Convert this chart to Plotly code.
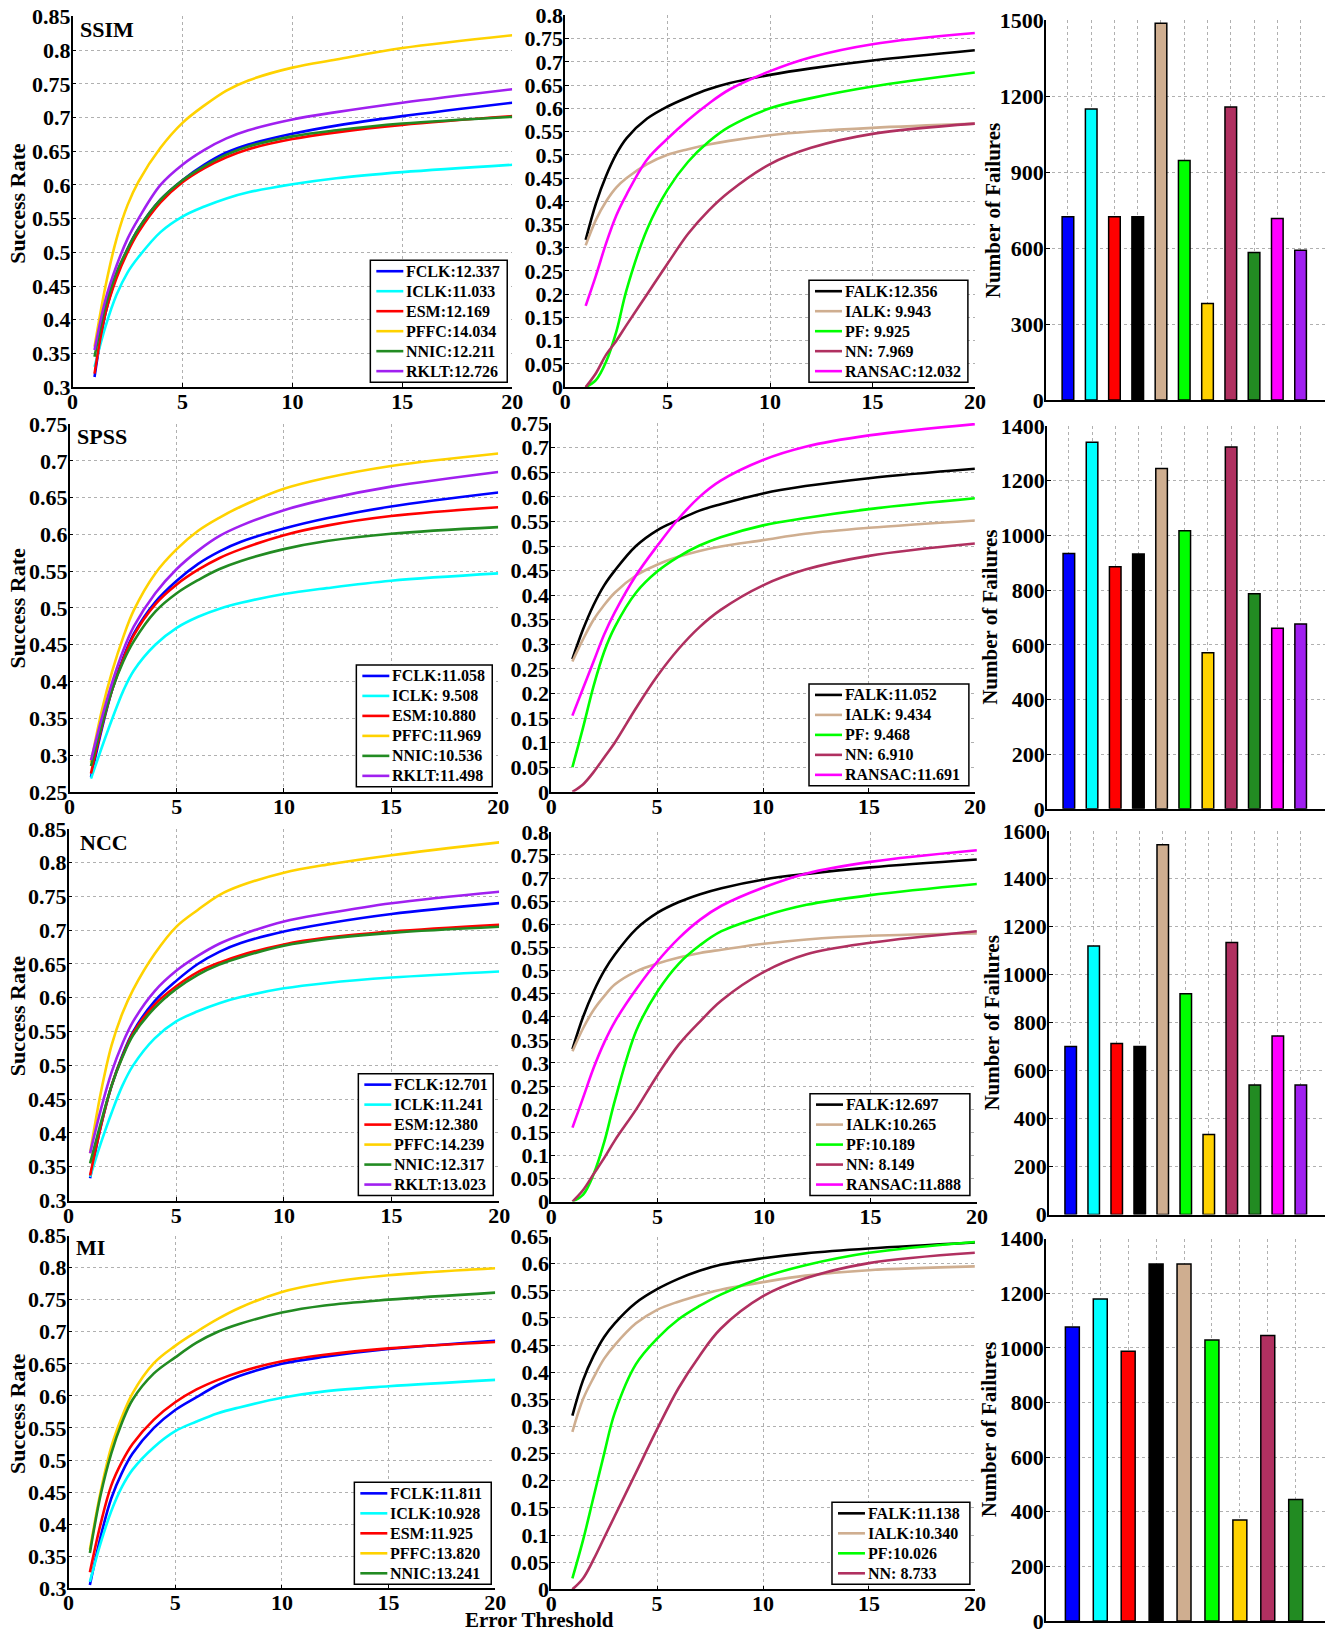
import plotly.graph_objects as go
import numpy as np

W, H = 1336, 1634

X = [1, 1.5, 2, 2.5, 3, 4, 5, 6, 7, 8, 10, 12, 15, 20]
row_names = ["SSIM", "SPSS", "NCC", "MI"]

ssim_left = {
    "FCLK": [0.315, 0.41, 0.465, 0.505, 0.535, 0.578, 0.607, 0.630, 0.648, 0.660, 0.676, 0.688, 0.702, 0.722],
    "ICLK": [0.33, 0.39, 0.437, 0.47, 0.493, 0.53, 0.553, 0.568, 0.580, 0.589, 0.601, 0.610, 0.619, 0.630],
    "ESM":  [0.32, 0.41, 0.462, 0.50, 0.53, 0.574, 0.604, 0.625, 0.641, 0.653, 0.668, 0.678, 0.689, 0.702],
    "PFFC": [0.36, 0.45, 0.52, 0.57, 0.605, 0.655, 0.692, 0.718, 0.740, 0.755, 0.774, 0.786, 0.803, 0.822],
    "NNIC": [0.345, 0.42, 0.47, 0.505, 0.535, 0.578, 0.607, 0.628, 0.645, 0.657, 0.672, 0.681, 0.691, 0.701],
    "RKLT": [0.355, 0.43, 0.48, 0.52, 0.55, 0.60, 0.630, 0.652, 0.669, 0.681, 0.697, 0.708, 0.722, 0.742],
}
spss_left = {
    "FCLK": [0.27, 0.335, 0.39, 0.432, 0.465, 0.508, 0.537, 0.56, 0.577, 0.59, 0.608, 0.622, 0.638, 0.657],
    "ICLK": [0.268, 0.31, 0.35, 0.387, 0.415, 0.45, 0.473, 0.488, 0.499, 0.507, 0.519, 0.527, 0.537, 0.547],
    "ESM":  [0.275, 0.338, 0.39, 0.43, 0.463, 0.505, 0.532, 0.552, 0.568, 0.58, 0.599, 0.612, 0.625, 0.637],
    "PFFC": [0.29, 0.36, 0.415, 0.46, 0.497, 0.547, 0.58, 0.605, 0.623, 0.638, 0.662, 0.677, 0.693, 0.71],
    "NNIC": [0.285, 0.34, 0.39, 0.427, 0.455, 0.495, 0.52, 0.538, 0.553, 0.564, 0.58, 0.591, 0.601, 0.61],
    "RKLT": [0.293, 0.35, 0.40, 0.442, 0.475, 0.52, 0.553, 0.578, 0.598, 0.612, 0.633, 0.648, 0.665, 0.685],
}
ncc_left = {
    "FCLK": [0.333, 0.41, 0.47, 0.515, 0.55, 0.595, 0.625, 0.65, 0.668, 0.681, 0.698, 0.71, 0.724, 0.74],
    "ICLK": [0.335, 0.385, 0.43, 0.47, 0.5, 0.54, 0.565, 0.58, 0.592, 0.601, 0.614, 0.622, 0.63, 0.639],
    "ESM":  [0.337, 0.41, 0.47, 0.513, 0.548, 0.59, 0.617, 0.638, 0.652, 0.663, 0.679, 0.689, 0.698, 0.708],
    "PFFC": [0.37, 0.46, 0.53, 0.577, 0.612, 0.665, 0.705, 0.73, 0.752, 0.766, 0.785, 0.797, 0.811, 0.83],
    "NNIC": [0.355, 0.415, 0.47, 0.512, 0.545, 0.585, 0.613, 0.634, 0.649, 0.66, 0.677, 0.687, 0.696, 0.705],
    "RKLT": [0.37, 0.435, 0.49, 0.532, 0.565, 0.61, 0.64, 0.662, 0.68, 0.693, 0.713, 0.725, 0.74, 0.757],
}
mi_left = {
    "FCLK": [0.305, 0.38, 0.44, 0.48, 0.51, 0.55, 0.578, 0.598, 0.617, 0.631, 0.65, 0.661, 0.673, 0.686],
    "ICLK": [0.31, 0.37, 0.42, 0.458, 0.485, 0.52, 0.545, 0.56, 0.573, 0.582, 0.597, 0.607, 0.615, 0.625],
    "ESM":  [0.325, 0.40, 0.46, 0.497, 0.525, 0.563, 0.59, 0.61, 0.625, 0.637, 0.654, 0.664, 0.674, 0.684],
    "PFFC": [0.36, 0.45, 0.52, 0.567, 0.604, 0.651, 0.678, 0.70, 0.72, 0.737, 0.762, 0.776, 0.788, 0.799],
    "NNIC": [0.355, 0.445, 0.51, 0.558, 0.594, 0.635, 0.66, 0.683, 0.70, 0.712, 0.73, 0.741, 0.75, 0.761],
}
left_scores = [
    {"FCLK": "12.337", "ICLK": "11.033", "ESM": "12.169", "PFFC": "14.034", "NNIC": "12.211", "RKLT": "12.726"},
    {"FCLK": "11.058", "ICLK": " 9.508", "ESM": "10.880", "PFFC": "11.969", "NNIC": "10.536", "RKLT": "11.498"},
    {"FCLK": "12.701", "ICLK": "11.241", "ESM": "12.380", "PFFC": "14.239", "NNIC": "12.317", "RKLT": "13.023"},
    {"FCLK": "11.811", "ICLK": "10.928", "ESM": "11.925", "PFFC": "13.820", "NNIC": "13.241"},
]

ssim_mid = {
    "FALK":   [0.317, 0.395, 0.455, 0.502, 0.536, 0.578, 0.604, 0.624, 0.641, 0.654, 0.672, 0.686, 0.703, 0.725],
    "IALK":   [0.305, 0.36, 0.40, 0.43, 0.45, 0.48, 0.50, 0.512, 0.522, 0.53, 0.542, 0.55, 0.558, 0.567],
    "PF":     [0.0, 0.015, 0.055, 0.12, 0.21, 0.34, 0.425, 0.485, 0.528, 0.56, 0.60, 0.622, 0.647, 0.677],
    "NN":     [0.0, 0.03, 0.07, 0.10, 0.134, 0.20, 0.266, 0.33, 0.38, 0.42, 0.48, 0.515, 0.545, 0.567],
    "RANSAC": [0.175, 0.24, 0.31, 0.37, 0.415, 0.49, 0.535, 0.575, 0.61, 0.64, 0.68, 0.71, 0.738, 0.762],
}
spss_mid = {
    "FALK":   [0.27, 0.33, 0.38, 0.42, 0.45, 0.50, 0.532, 0.553, 0.572, 0.585, 0.607, 0.622, 0.638, 0.657],
    "IALK":   [0.265, 0.31, 0.35, 0.38, 0.405, 0.44, 0.462, 0.478, 0.49, 0.499, 0.512, 0.525, 0.537, 0.552],
    "PF":     [0.05, 0.13, 0.215, 0.285, 0.335, 0.405, 0.448, 0.478, 0.501, 0.518, 0.542, 0.557, 0.575, 0.597],
    "NN":     [0.0, 0.015, 0.04, 0.07, 0.10, 0.17, 0.235, 0.29, 0.335, 0.37, 0.42, 0.452, 0.48, 0.505],
    "RANSAC": [0.155, 0.21, 0.265, 0.32, 0.365, 0.44, 0.50, 0.555, 0.60, 0.633, 0.675, 0.702, 0.725, 0.748],
}
ncc_mid = {
    "FALK":   [0.33, 0.40, 0.455, 0.50, 0.535, 0.59, 0.625, 0.648, 0.665, 0.678, 0.697, 0.709, 0.723, 0.74],
    "IALK":   [0.325, 0.375, 0.415, 0.445, 0.47, 0.498, 0.515, 0.528, 0.538, 0.545, 0.558, 0.567, 0.575, 0.58],
    "PF":     [0.0, 0.015, 0.06, 0.13, 0.22, 0.37, 0.455, 0.515, 0.555, 0.585, 0.618, 0.642, 0.663, 0.687],
    "NN":     [0.0, 0.025, 0.06, 0.095, 0.133, 0.2, 0.274, 0.34, 0.39, 0.435, 0.497, 0.535, 0.56, 0.585],
    "RANSAC": [0.16, 0.225, 0.29, 0.345, 0.39, 0.46, 0.52, 0.57, 0.61, 0.64, 0.68, 0.71, 0.735, 0.76],
}
mi_mid = {
    "FALK":   [0.32, 0.385, 0.43, 0.465, 0.49, 0.528, 0.553, 0.572, 0.587, 0.598, 0.61, 0.619, 0.628, 0.639],
    "IALK":   [0.29, 0.35, 0.39, 0.425, 0.45, 0.49, 0.515, 0.53, 0.542, 0.552, 0.566, 0.578, 0.588, 0.595],
    "PF":     [0.02, 0.09, 0.17, 0.25, 0.325, 0.415, 0.462, 0.497, 0.522, 0.543, 0.575, 0.597, 0.62, 0.64],
    "NN":     [0.0, 0.02, 0.055, 0.095, 0.135, 0.215, 0.295, 0.37, 0.43, 0.48, 0.54, 0.573, 0.601, 0.62],
}
mid_scores = [
    {"FALK": "12.356", "IALK": " 9.943", "PF": " 9.925", "NN": " 7.969", "RANSAC": "12.032"},
    {"FALK": "11.052", "IALK": " 9.434", "PF": " 9.468", "NN": " 6.910", "RANSAC": "11.691"},
    {"FALK": "12.697", "IALK": "10.265", "PF": "10.189", "NN": " 8.149", "RANSAC": "11.888"},
    {"FALK": "11.138", "IALK": "10.340", "PF": "10.026", "NN": " 8.733"},
]

bar_methods = ["FCLK", "ICLK", "ESM", "FALK", "IALK", "PF", "PFFC", "NN", "NNIC", "RANSAC", "RKLT"]
ssim_fail = [724, 1150, 724, 724, 1489, 947, 382, 1158, 583, 717, 592]
spss_fail = [934, 1341, 886, 932, 1245, 1017, 571, 1324, 787, 661, 676]
ncc_fail = [701, 1120, 713, 701, 1542, 921, 334, 1134, 540, 744, 540]
mi_fail = [1076, 1179, 987, 1307, 1307, 1029, 370, 1045, 445]

left_data = [ssim_left, spss_left, ncc_left, mi_left]
mid_data = [ssim_mid, spss_mid, ncc_mid, mi_mid]
fail_data = [ssim_fail, spss_fail, ncc_fail, mi_fail]

left_yrange = [[0.3, 0.85], [0.25, 0.75], [0.3, 0.85], [0.3, 0.85]]
mid_yrange = [[0, 0.8], [0, 0.75], [0, 0.8], [0, 0.65]]
bar_yrange = [[0, 1500], [0, 1400], [0, 1600], [0, 1400]]
bar_dtick = [300, 200, 200, 200]
x_ticks = [0, 5, 10, 15, 20]

colors = {
    "FCLK": "#0000FF", "ICLK": "#00FFFF", "ESM": "#FF0000", "FALK": "#000000",
    "IALK": "#CFAE90", "PF": "#00FF00", "PFFC": "#FFD200", "NN": "#B03060",
    "NNIC": "#228B22", "RANSAC": "#FF00FF", "RKLT": "#A020F0",
}

# target pixel geometry (as measured on the reference)
boxes = [
    [[72, 512, 16, 387], [565, 975, 15, 387], [1046, 1328, 20, 400]],
    [[69, 498, 424, 792], [551, 975, 423, 792], [1047, 1328, 426, 809]],
    [[68, 499, 829, 1201], [551, 977, 832, 1202], [1049, 1328, 831, 1215]],
    [[68, 495, 1236, 1589], [551, 975, 1237, 1590], [1046, 1328, 1239, 1622]],
]
leg_box = [
    [[370, 507, 382], [809, 968, 382]],
    [[356, 492, 787], [809, 969, 786]],
    [[358, 493, 1196], [810, 970, 1196]],
    [[354, 491, 1585], [832, 970, 1585]],
]
ROW_H = 20

# the page is captured with a small inset; compensate so marks land on target pixels
SX, SY = 0.988, 0.9854
OX, OY = 5.4, 11.6

FONT = "Liberation Serif"
fig = go.Figure()
layout = dict(
    width=W, height=H, autosize=False, margin=dict(l=0, r=0, t=0, b=0, pad=0),
    paper_bgcolor="white", plot_bgcolor="white",
    font=dict(family=FONT, size=22, color="black", weight="bold"),
    showlegend=False,
)
annotations = []
shapes = []


def px_x(p):
    return min(max((p - OX) / SX / W, 0), 1)


def px_y(p):
    return min(max(1 - (p - OY) / SY / H, 0), 1)


def axis_common():
    return dict(showline=True, linecolor="black", linewidth=1.5,
                showgrid=True, gridcolor="#b0b0b0", griddash="dot", gridwidth=1,
                ticks="inside", ticklen=4, tickcolor="black", zeroline=False,
                tickfont=dict(family=FONT, size=22, color="black", weight="bold"))


for r in range(4):
    for c in range(3):
        k = r * 3 + c + 1
        x0, x1, y0, y1 = boxes[r][c]
        xa = axis_common()
        ya = axis_common()
        xa["domain"] = [px_x(x0), px_x(x1)]
        ya["domain"] = [px_y(y1), px_y(y0)]
        xa["ticklabelstandoff"] = -6
        ya["ticklabelstandoff"] = -4
        xname = "x" if k == 1 else f"x{k}"
        yname = "y" if k == 1 else f"y{k}"
        xa["anchor"] = yname
        ya["anchor"] = xname
        if c < 2:
            xa["range"] = [0, 20]
            xa["tickvals"] = x_ticks
            xa["ticktext"] = [str(v) for v in x_ticks]
            yr = left_yrange[r] if c == 0 else mid_yrange[r]
            ya["range"] = yr
            tv = np.round(np.arange(yr[0], yr[1] + 1e-9, 0.05), 2)
            ya["tickvals"] = list(tv)
            ya["ticktext"] = [f"{v:g}" for v in tv]
            data = left_data[r] if c == 0 else mid_data[r]
            scores = left_scores[r] if c == 0 else mid_scores[r]
            for name, vals in data.items():
                fig.add_trace(go.Scatter(
                    x=X, y=vals, mode="lines", name=f"{name}:{scores[name]}",
                    line=dict(color=colors[name], width=2.6, shape="spline", smoothing=1.0),
                    xaxis=xname, yaxis=yname, showlegend=False,
                ))
            lx0, lx1, lby = leg_box[r][c]
            n = len(data)
            lty = lby - (ROW_H * n + 2)
            shapes.append(dict(type="rect", xref="paper", yref="paper",
                               x0=px_x(lx0), x1=px_x(lx1), y0=px_y(lby), y1=px_y(lty),
                               fillcolor="white", line=dict(color="black", width=1.5), layer="above"))
            for i, name in enumerate(data.keys()):
                cy = lty + 11 + ROW_H * i
                shapes.append(dict(type="line", xref="paper", yref="paper",
                                   x0=px_x(lx0 + 6), x1=px_x(lx0 + 33), y0=px_y(cy), y1=px_y(cy),
                                   line=dict(color=colors[name], width=2.6), layer="above"))
                annotations.append(dict(text=f"{name}:{scores[name]}", xref="paper", yref="paper",
                                        x=px_x(lx0 + 35), y=px_y(cy), xanchor="left", yanchor="middle",
                                        showarrow=False, borderpad=0,
                                        font=dict(family=FONT, size=16, color="black", weight="bold")))
        else:
            vals = fail_data[r]
            n = len(vals)
            cats = list(range(1, n + 1))
            xa["range"] = [0.05, n + 1.05]
            xa["tickvals"] = cats
            xa["showticklabels"] = False
            xa["ticks"] = ""
            yr = bar_yrange[r]
            ya["range"] = yr
            tv = list(range(yr[0], yr[1] + 1, bar_dtick[r]))
            ya["tickvals"] = tv
            ya["ticktext"] = [str(v) for v in tv]
            fig.add_trace(go.Bar(
                x=cats, y=vals, width=0.5,
                marker=dict(color=[colors[m] for m in bar_methods[:n]],
                            line=dict(color="black", width=1.5)),
                xaxis=xname, yaxis=yname, showlegend=False,
            ))
        layout["xaxis" if k == 1 else f"xaxis{k}"] = xa
        layout["yaxis" if k == 1 else f"yaxis{k}"] = ya

sr_y = [203, 608, 1016, 1414]
nf = [[993, 210], [990, 617], [992, 1023], [990, 1430]]
panel_xy = [[77, 29], [74, 436], [77, 843], [73, 1248]]
for r in range(4):
    annotations.append(dict(text="Success Rate", x=px_x(17), y=px_y(sr_y[r]), xref="paper", yref="paper",
                            textangle=-90, showarrow=False, xanchor="center", yanchor="middle",
                            font=dict(family=FONT, size=22, color="black", weight="bold")))
    annotations.append(dict(text="Number of Failures", x=px_x(nf[r][0]), y=px_y(nf[r][1]), xref="paper",
                            yref="paper", textangle=-90, showarrow=False, xanchor="center", yanchor="middle",
                            font=dict(family=FONT, size=21, color="black", weight="bold")))
    annotations.append(dict(text=row_names[r], x=px_x(panel_xy[r][0]), y=px_y(panel_xy[r][1]), xref="paper",
                            yref="paper", showarrow=False, xanchor="left", yanchor="middle",
                            font=dict(family=FONT, size=22, color="black", weight="bold")))
annotations.append(dict(text="Error Threshold", x=px_x(539), y=px_y(1621), xref="paper", yref="paper",
                        showarrow=False, xanchor="center", yanchor="middle",
                        font=dict(family=FONT, size=21, color="black", weight="bold")))
layout["annotations"] = annotations
layout["shapes"] = shapes

fig.update_layout(**layout)
fig.write_html("out.html")
